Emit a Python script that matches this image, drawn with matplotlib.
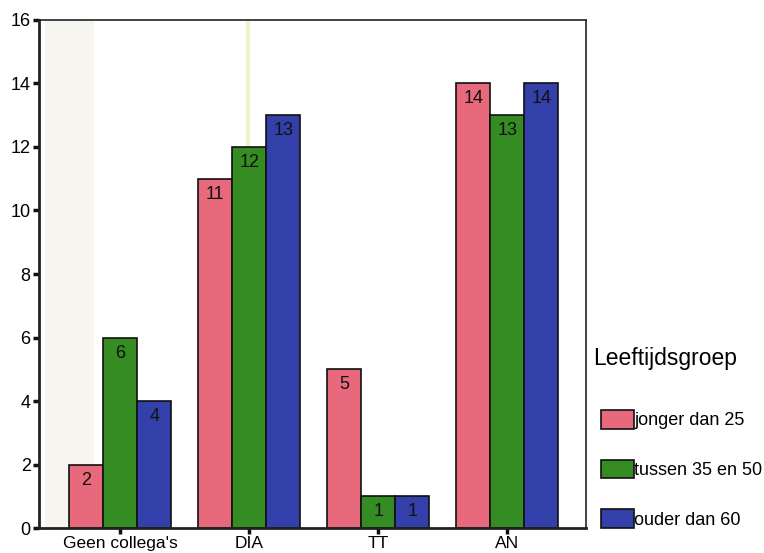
import numpy as np
import matplotlib
matplotlib.use('Agg')
import matplotlib.pyplot as plt

plt.rcParams['font.family'] = ['Liberation Sans', 'DejaVu Sans']

# data
categories = ["Geen collega's", 'DIA', 'TT', 'AN']
groups = ['jonger dan 25', 'tussen 35 en 50', 'ouder dan 60']
jonger = [2, 11, 5, 14]
tussen = [6, 12, 1, 13]
ouder = [4, 13, 1, 14]
colors = ['#e8687c', '#348c22', '#3340aa']

fig = plt.figure(figsize=(7.64, 5.53), dpi=100)
ax = fig.add_axes([0.051, 0.045, 0.716, 0.919])

x = np.arange(len(categories))
w = 0.264
for i, (vals, c, lab) in enumerate(zip([jonger, tussen, ouder], colors, groups)):
    bars = ax.bar(x + (i - 1) * w, vals, w, color=c, edgecolor='#111111',
                  linewidth=1.2, label=lab)
    for b, v in zip(bars, vals):
        ax.text(b.get_x() + b.get_width() / 2, v - 0.22, str(v),
                ha='center', va='top', fontsize=13, color='#111111')

# faint scan stripes on the left
ax.axvspan(-0.58, -0.2, color='#efece2', alpha=0.5, lw=0, zorder=0)
ax.axvline(0.99, color='#f2f2cc', lw=3, zorder=0)

ax.set_xlim(-0.63, 3.61)
ax.set_ylim(0, 16)
ax.set_yticks(range(0, 17, 2))
ax.set_xticks(x)
ax.set_xticklabels(categories)
ax.tick_params(axis='y', labelsize=13)
ax.tick_params(axis='x', labelsize=12.5)
ax.tick_params(axis='both', color='#111111', width=2.5, length=4,
               direction='out', pad=2)
for s in ['left', 'bottom']:
    ax.spines[s].set_linewidth(2)
for s in ['top', 'right']:
    ax.spines[s].set_linewidth(1.2)
for s in ax.spines.values():
    s.set_color('#222222')

leg = fig.legend(loc='upper left', bbox_to_anchor=(0.777, 0.368),
                 title='Leeftijdsgroep', frameon=False, fontsize=13,
                 title_fontsize=16.5, handlelength=1.85, handleheight=1.2,
                 handletextpad=0.0, labelspacing=1.68, borderaxespad=0)
leg._legend_box.align = 'left'
leg.get_title().set_position((-8, 10))

fig.savefig('out.png', dpi=100)
